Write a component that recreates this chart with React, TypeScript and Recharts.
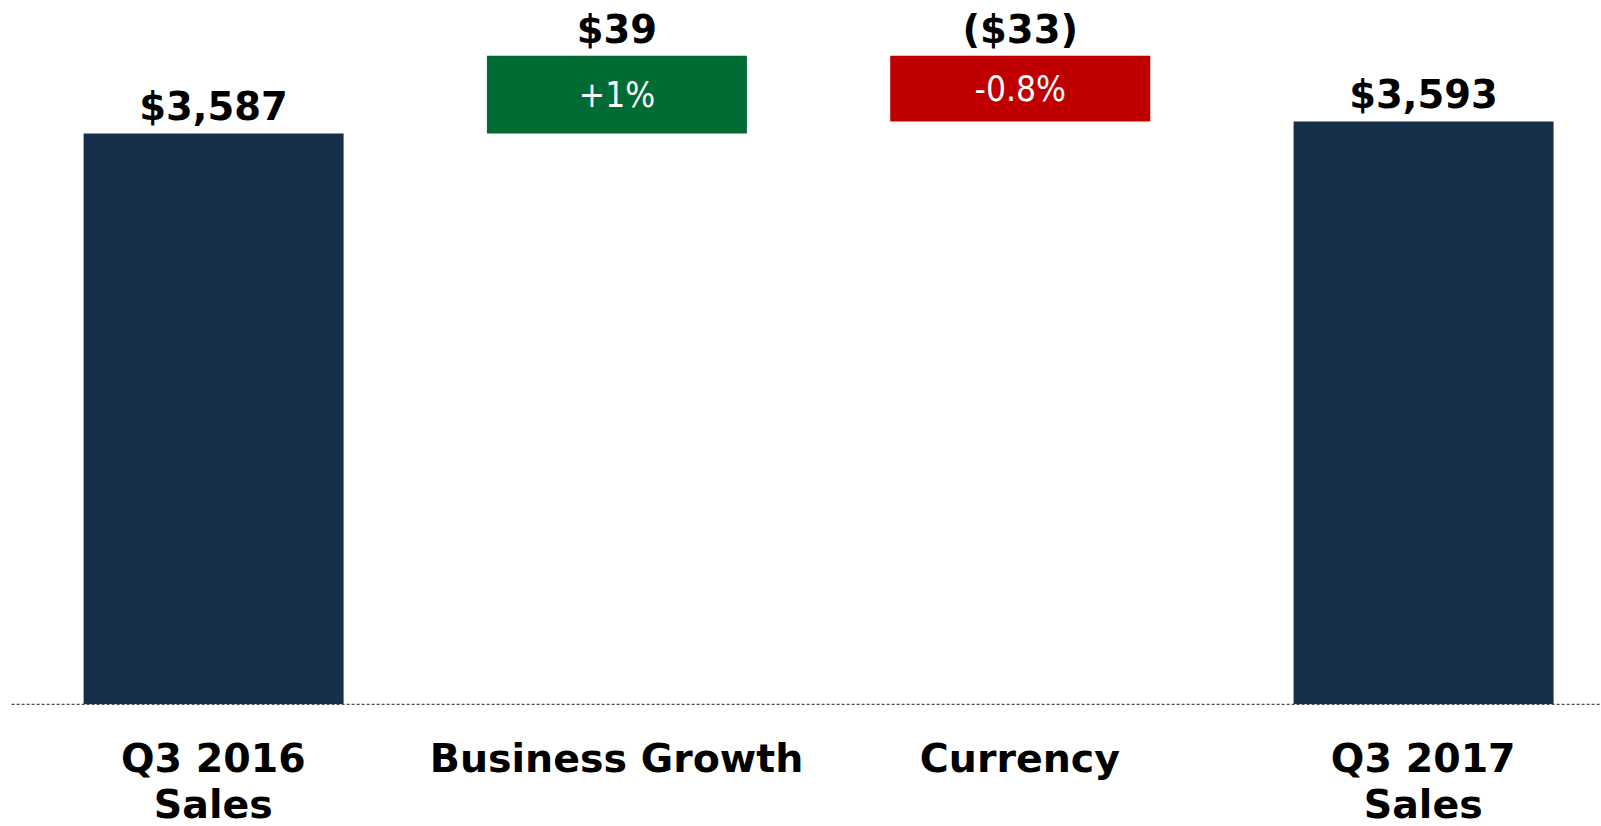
import { Bar, BarChart, Cell, LabelList, XAxis, YAxis } from "recharts"

const categories = ["Q3 2016\nSales", "Business Growth", "Currency", "Q3 2017\nSales"]
const startValue = 3587
const changes = [39, -33]
const endValue = 3593
const valueLabels = ["$3,587", "$39", "($33)", "$3,593"]
const pctLabels = ["", "+1%", "-0.8%", ""]
const colors = ["#162f4a", "#006b33", "#c00000", "#162f4a"]

const axisMin = 3300
const axisMax = 3650

// floating ranges for the waterfall
const ranges: [number, number][] = []
ranges.push([axisMin, startValue])
let running = startValue
changes.forEach((c) => {
  const next = running + c
  ranges.push([Math.min(running, next), Math.max(running, next)])
  running = next
})
ranges.push([axisMin, endValue])

const data = categories.map((name, i) => ({
  name,
  range: ranges[i],
  top: valueLabels[i],
  pct: pctLabels[i],
}))

const boldFont = "'DejaVu Sans', sans-serif"
const narrowFont = "'Liberation Sans Narrow', 'DejaVu Sans Condensed', sans-serif"

function CategoryTick(props: any) {
  const { x, y, payload } = props
  const lines = String(payload.value).split("\n")
  return (
    <text x={x} y={y + 68} textAnchor="middle" fill="#000" fontSize={39.5} fontWeight="bold" fontFamily={boldFont}>
      {lines.map((l, i) => (
        <tspan key={i} x={x} dy={i === 0 ? 0 : 46}>
          {l}
        </tspan>
      ))}
    </text>
  )
}

export default function App() {
  return (
    <div style={{ position: "absolute", left: 0, top: 0, width: 1601, height: 826, overflow: "hidden", background: "#fff" }}>
      <BarChart width={1640} height={826} data={data} margin={{ top: 8.1, right: 15.1, left: 11.6, bottom: 0 }}>
        <XAxis
          dataKey="name"
          interval={0}
          height={121.7}
          tickLine={false}
          tickSize={0}
          tickMargin={0}
          axisLine={{ stroke: "#222", strokeDasharray: "3 2", strokeWidth: 1 }}
          tick={<CategoryTick />}
        />
        <YAxis hide type="number" domain={[axisMin, axisMax]} tickCount={8} allowDataOverflow />
        <Bar dataKey="range" barSize={260} isAnimationActive={false}>
          {data.map((d, i) => (
            <Cell key={d.name} fill={colors[i]} />
          ))}
          <LabelList
            dataKey="top"
            position="top"
            offset={13}
            fill="#000"
            fontSize={38.5}
            fontWeight="bold"
            fontFamily={boldFont}
          />
          <LabelList dataKey="pct" position="center" fill="#fff" fontSize={35} fontFamily={narrowFont} />
        </Bar>
      </BarChart>
    </div>
  )
}
